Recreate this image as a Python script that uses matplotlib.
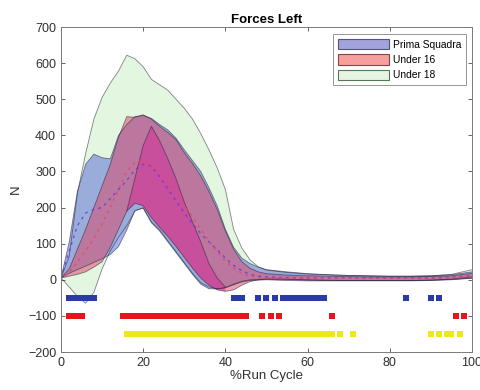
import matplotlib
matplotlib.use("Agg")
import matplotlib.pyplot as plt
from matplotlib.patches import Patch

plt.rcParams['font.family'] = ['Liberation Sans', 'DejaVu Sans']

# %Run cycle sample points (shared by every band)
pct = [0, 2, 4, 6, 8, 10, 12, 14, 16, 18, 20, 22, 24, 26, 28, 30, 32, 34, 36,
       38, 40, 42, 44, 46, 48, 50, 55, 60, 65, 70, 75, 80, 85, 90, 95, 100]

# Under 18 band
u18_up = [5, 65, 240, 350, 445, 505, 545, 578, 622, 612, 590, 555, 540, 525, 500, 475, 445, 405, 360,
          310, 250, 140, 88, 55, 36, 27, 20, 16, 14, 12, 11, 10, 10, 11, 15, 28]
u18_lo = [5, -20, -46, -65, -35, 30, 80, 118, 150, 190, 200, 160, 138, 108, 78, 48, 18, -8, -20,
          -25, -22, -12, -4, 0, 1, 2, 2, 0, -1, -2, -2, -2, -2, -1, 2, 8]

# Prima Squadra band
ps_up = [5, 105, 245, 320, 348, 338, 335, 400, 430, 452, 455, 447, 430, 415, 392, 360, 330, 300, 255,
         205, 140, 90, 60, 45, 35, 28, 22, 17, 14, 12, 11, 10, 10, 11, 14, 22]
ps_lo = [5, 18, 28, 38, 48, 58, 70, 92, 138, 192, 198, 158, 135, 105, 75, 45, 15, -12, -25,
         -25, -22, -14, -6, -2, -1, 0, -2, -3, -3, -3, -3, -3, -3, -2, 0, 5]
ps_mean = [5, 80, 150, 185, 195, 200, 225, 250, 275, 305, 320, 315, 285, 252, 218, 185, 155, 128, 105,
           83, 60, 40, 25, 15, 10, 8, 6, 5, 5, 5, 5, 5, 5, 5, 7, 12]

# Under 16 band
u16_up = [5, 30, 85, 140, 200, 260, 320, 395, 452, 450, 457, 445, 425, 408, 388, 352, 322, 288, 245,
          195, 135, 85, 50, 32, 22, 17, 13, 11, 10, 9, 8, 8, 8, 9, 11, 18]
u16_lo = [5, 10, 15, 22, 35, 50, 90, 140, 190, 212, 205, 172, 145, 120, 92, 62, 32, 5, -15,
          -28, -32, -28, -15, -5, 0, 2, 1, -1, -2, -2, -2, -2, -2, -1, 1, 4]
u16_mean = [5, 20, 50, 80, 115, 155, 200, 250, 300, 325, 330, 322, 300, 272, 240, 208, 175, 140, 108,
            78, 52, 32, 18, 10, 6, 5, 4, 4, 4, 4, 4, 4, 4, 4, 6, 10]

# overlap core (inner curve peaking near 22 %)
core_up = [190, 282, 372, 425, 385, 335, 280, 215, 160, 105, 45, 5, -20]

# significance markers (% of cycle)
sig_ps = list(range(2, 9)) + [42, 43, 44, 48, 50, 52] + list(range(54, 65)) + [84, 90, 92]
sig_u16 = list(range(2, 6)) + list(range(15, 46)) + [49, 51, 53, 66, 96, 98]
sig_u18 = list(range(16, 67)) + [68, 71, 90, 92, 94, 95, 97]

fig = plt.figure(figsize=(4.81, 3.90), dpi=100)
ax = fig.add_axes([0.1268, 0.0974, 0.8545, 0.8333])

edge = (0.12, 0.12, 0.2, 0.55)
green_c = (0.82, 0.94, 0.80)
blue_c = (0.36, 0.44, 0.84)
red_c = (0.86, 0.28, 0.40)

ax.fill_between(pct, u18_lo, u18_up, facecolor=green_c, alpha=0.6, edgecolor='none')
ax.plot(pct, u18_up, color=edge, lw=0.6)
ax.plot(pct, u18_lo, color=edge, lw=0.6)

ax.fill_between(pct, ps_lo, ps_up, facecolor=blue_c, alpha=0.55, edgecolor='none')
ax.plot(pct, ps_up, color=edge, lw=0.6)
ax.plot(pct, ps_lo, color=edge, lw=0.6)

ax.fill_between(pct, u16_lo, u16_up, facecolor=red_c, alpha=0.52, edgecolor='none')
ax.plot(pct, u16_up, color=edge, lw=0.6)
ax.plot(pct, u16_lo, color=edge, lw=0.6)

ax.fill_between(pct[8:21], u16_lo[8:21], core_up, facecolor=(0.85, 0.12, 0.6), alpha=0.45, edgecolor='none')
ax.plot(pct[8:21], core_up, color=edge, lw=0.6)

ax.plot(pct, ps_mean, color=(0.4, 0.2, 0.9), lw=1.0, ls=(0, (2, 3)), alpha=0.8)
ax.plot(pct, u16_mean, color=(0.95, 0.25, 0.4), lw=1.0, ls=(2, (2, 3)), alpha=0.8)

# significance rows
ax.plot(sig_ps, [-50] * len(sig_ps), 's', color='#2a3aa6', ms=5, mew=0)
ax.plot(sig_u16, [-100] * len(sig_u16), 's', color='#e8141c', ms=5, mew=0)
ax.plot(sig_u18, [-150] * len(sig_u18), 's', color='#ece81a', ms=5, mew=0)

ax.set_xlim(0, 100)
ax.set_ylim(-200, 700)
ax.set_xticks([0, 20, 40, 60, 80, 100])
ax.set_yticks(range(-200, 701, 100))
ax.tick_params(direction='in', top=True, right=True, length=3, width=0.6,
               labelsize=9, colors='#4a4a4a', labelcolor='#303030')
for s in ax.spines.values():
    s.set_color('#7a7a7a')
    s.set_linewidth(0.7)

ax.set_title('Forces Left', fontsize=9.5, fontweight='bold', pad=3)
ax.set_xlabel('%Run Cycle', fontsize=9.5, color='#303030', labelpad=1)
ax.set_ylabel('N', fontsize=9.5, color='#303030', labelpad=4)

handles = [
    Patch(facecolor=(0.64, 0.64, 0.86), edgecolor='#555577', lw=0.8, label='Prima Squadra'),
    Patch(facecolor=(0.97, 0.62, 0.62), edgecolor='#884444', lw=0.8, label='Under 16'),
    Patch(facecolor=(0.90, 0.96, 0.89), edgecolor='#557755', lw=0.8, label='Under 18'),
]
leg = ax.legend(handles=handles, loc='upper right', bbox_to_anchor=(0.985, 0.978),
                fontsize=7.4, fancybox=False, borderaxespad=0, handlelength=5.0,
                handleheight=1.2, labelspacing=0.45, borderpad=0.45, handletextpad=0.35)
leg.get_frame().set_edgecolor('#7a7a7a')
leg.get_frame().set_linewidth(0.7)

fig.savefig('out.png', dpi=100)
